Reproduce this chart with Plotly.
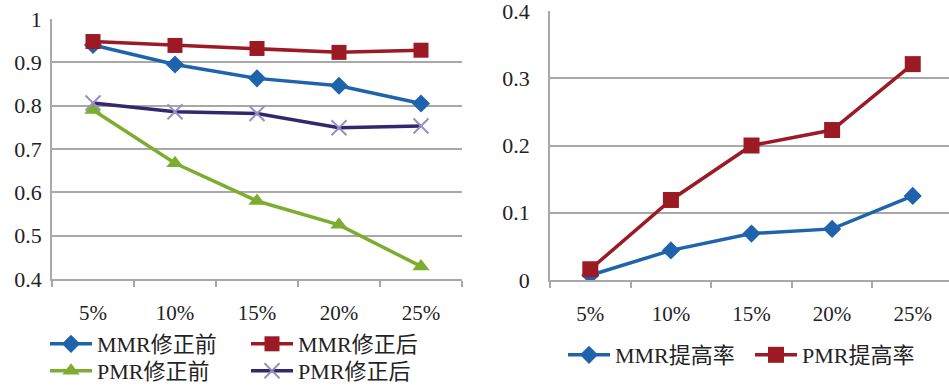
import plotly.graph_objects as go

categories = ["5%", "10%", "15%", "20%", "25%"]
mmr_before = [0.940, 0.895, 0.863, 0.846, 0.805]
mmr_after = [0.948, 0.939, 0.932, 0.923, 0.928]
pmr_before = [0.790, 0.667, 0.580, 0.525, 0.429]
pmr_after = [0.806, 0.786, 0.782, 0.749, 0.753]
mmr_gain = [0.007, 0.044, 0.069, 0.076, 0.125]
pmr_gain = [0.016, 0.119, 0.200, 0.223, 0.321]
left_ticks = [0.4, 0.5, 0.6, 0.7, 0.8, 0.9, 1.0]
left_ticktext = ["0.4", "0.5", "0.6", "0.7", "0.8", "0.9", "1"]
right_ticks = [0, 0.1, 0.2, 0.3, 0.4]
right_ticktext = ["0", "0.1", "0.2", "0.3", "0.4"]

BLUE = "#1f63ad"
RED = "#9c1a24"
GREEN = "#7dad2e"
PURPLE = "#35276e"
XMARK = "#9a8fc0"
GRID = "#a8a8a8"
FONT = "Liberation Serif, Noto Sans CJK SC"

fig = go.Figure()

fig.add_trace(go.Scatter(x=categories, y=mmr_before, name="MMR修正前", mode="lines+markers",
                         line=dict(color=BLUE, width=3.5),
                         marker=dict(symbol="diamond", size=14, color=BLUE),
                         xaxis="x", yaxis="y", legend="legend"))
fig.add_trace(go.Scatter(x=categories, y=mmr_after, name="MMR修正后", mode="lines+markers",
                         line=dict(color=RED, width=3.5),
                         marker=dict(symbol="square", size=15, color=RED),
                         xaxis="x", yaxis="y", legend="legend"))
fig.add_trace(go.Scatter(x=categories, y=pmr_before, name="PMR修正前", mode="lines+markers",
                         line=dict(color=GREEN, width=3.5),
                         marker=dict(symbol="triangle-up", size=15, color=GREEN),
                         xaxis="x", yaxis="y", legend="legend2"))
fig.add_trace(go.Scatter(x=categories, y=pmr_after, name="PMR修正后", mode="lines+markers",
                         line=dict(color=PURPLE, width=3.5),
                         marker=dict(symbol="x-thin", size=15, color=XMARK,
                                     line=dict(color=XMARK, width=2)),
                         xaxis="x", yaxis="y", legend="legend2"))

fig.add_trace(go.Scatter(x=categories, y=mmr_gain, name="MMR提高率", mode="lines+markers",
                         line=dict(color=BLUE, width=3.5),
                         marker=dict(symbol="diamond", size=14, color=BLUE),
                         xaxis="x2", yaxis="y2", legend="legend3"))
fig.add_trace(go.Scatter(x=categories, y=pmr_gain, name="PMR提高率", mode="lines+markers",
                         line=dict(color=RED, width=3.5),
                         marker=dict(symbol="square", size=16, color=RED),
                         xaxis="x2", yaxis="y2", legend="legend3"))

W, H = 949, 385

xcommon = dict(type="category", tickson="boundaries", ticks="outside", ticklen=6,
               tickcolor=GRID, tickwidth=1.5, showline=True, linecolor=GRID, linewidth=1.5,
               showgrid=False, zeroline=False, ticklabelstandoff=14, automargin=False,
               ticklabeloverflow="allow",
               tickfont=dict(family=FONT, size=21, color="#222"))
ycommon = dict(showgrid=True, gridcolor=GRID, gridwidth=1.5, showline=True, linecolor=GRID,
               linewidth=1.5, zeroline=False, ticks="", automargin=False,
               ticklabeloverflow="allow",
               tickfont=dict(family=FONT, size=22, color="#222"))
legfont = dict(family=FONT, size=22, color="#222")

fig.update_layout(
    width=W, height=H,
    margin=dict(l=0, r=0, t=0, b=0, autoexpand=False),
    paper_bgcolor="white", plot_bgcolor="white",
    font=dict(family=FONT, size=20, color="#222"),
    xaxis=dict(domain=[52 / W, 462 / W], range=[-0.5, 4.5], anchor="y", **xcommon),
    yaxis=dict(domain=[1 - 279 / H, 1 - 19 / H], range=[0.4, 1.0], anchor="x",
               tickvals=left_ticks, ticktext=left_ticktext, ticklabelstandoff=4, **ycommon),
    xaxis2=dict(domain=[550 / W, 1.0], range=[-0.5, 4.45], anchor="y2", **xcommon),
    yaxis2=dict(domain=[1 - 280 / H, 1 - 11 / H], range=[0, 0.4], anchor="x2",
                tickvals=right_ticks, ticktext=right_ticktext, ticklabelstandoff=14, **ycommon),
    legend=dict(orientation="h", x=45 / W, xanchor="left", y=1 - 344 / H, yanchor="middle",
                entrywidth=144, itemwidth=42, font=legfont, bgcolor="rgba(0,0,0,0)"),
    legend2=dict(orientation="h", x=45 / W, xanchor="left", y=1 - 371 / H, yanchor="middle",
                 entrywidth=144, itemwidth=42, font=legfont, bgcolor="rgba(0,0,0,0)"),
    legend3=dict(orientation="h", x=563 / W, xanchor="left", y=1 - 355 / H, yanchor="middle",
                 entrywidth=130, itemwidth=42, font=legfont, bgcolor="rgba(0,0,0,0)"),
    showlegend=True,
)

fig.write_html("out.html")
